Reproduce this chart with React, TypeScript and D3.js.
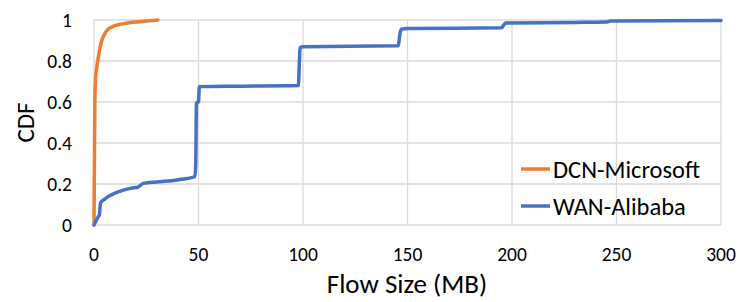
import React from "react";
import * as d3 from "d3";

const dcnX = [0, 0.2, 0.4, 0.7, 1.2, 1.8, 2.6, 3.7, 5.0, 6.7, 8.5, 10, 13, 16, 20, 25, 30.6];
const dcnY = [0, 0.3, 0.6, 0.7, 0.76, 0.8, 0.85, 0.9, 0.93, 0.955, 0.965, 0.972, 0.98, 0.985, 0.99, 0.995, 1.0];

const wanX = [0, 1.0, 2.0, 2.6, 3.0, 3.3, 5, 7, 10, 14, 18, 21, 23.6, 30, 40, 48.3, 48.7, 49.0, 49.6, 50.0, 50.4, 70, 97.8, 98.2, 98.6, 100, 145.5, 146.5, 147, 150, 195, 196, 197, 230, 245, 247, 300];
const wanY = [0, 0.02, 0.04, 0.05, 0.1, 0.11, 0.125, 0.14, 0.155, 0.17, 0.18, 0.185, 0.203, 0.21, 0.22, 0.236, 0.3, 0.59, 0.6, 0.6, 0.675, 0.677, 0.68, 0.78, 0.865, 0.87, 0.874, 0.94, 0.955, 0.958, 0.962, 0.975, 0.985, 0.988, 0.99, 0.995, 0.997];

const xTicks = [0, 50, 100, 150, 200, 250, 300];
const yTicks = [0, 0.2, 0.4, 0.6, 0.8, 1];
const seriesNames = ["DCN-Microsoft", "WAN-Alibaba"];
const seriesColors = ["#ED7D31", "#4472C4"];

const W = 747, H = 302;
const FONT = "Carlito, Lato, 'Open Sans', sans-serif";

export default function App() {
  const x = d3.scaleLinear().domain([0, 300]).range([94, 721]);
  const y = d3.scaleLinear().domain([0, 1]).range([225, 20]);
  const line = d3.line<[number, number]>().x(d => x(d[0])).y(d => y(d[1])).curve(d3.curveMonotoneX);
  const dcn = dcnX.map((v, i) => [v, dcnY[i]] as [number, number]);
  const wan = wanX.map((v, i) => [v, wanY[i]] as [number, number]);
  const data = [dcn, wan];
  return (
    <svg width={W} height={H} style={{ position: "absolute", left: 0, top: 0, background: "#fff" }} fontFamily={FONT}>
      {yTicks.map(t => (
        <line key={"gy" + t} x1={x(0)} x2={x(300)} y1={y(t)} y2={y(t)} stroke="#d9d9d9" strokeWidth={1.3} />
      ))}
      {xTicks.map(t => (
        <line key={"gx" + t} x1={x(t)} x2={x(t)} y1={y(0)} y2={y(1)} stroke="#d9d9d9" strokeWidth={1.3} />
      ))}
      {yTicks.map(t => (
        <text key={"ty" + t} x={72} y={y(t)} dy="0.35em" textAnchor="end" fontSize={19.5} fill="#000">{String(t)}</text>
      ))}
      {xTicks.map(t => (
        <text key={"tx" + t} x={x(t)} y={261} textAnchor="middle" fontSize={19.5} fill="#000">{String(t)}</text>
      ))}
      <text x={407} y={293} textAnchor="middle" fontSize={27} fill="#000">Flow Size (MB)</text>
      <text transform={`translate(34,${y(0.5)}) rotate(-90)`} textAnchor="middle" fontSize={25} fill="#000">CDF</text>
      {data.map((d, i) => (
        <path key={"s" + i} d={line(d) || ""} fill="none" stroke={seriesColors[i]} strokeWidth={3.5} strokeLinejoin="round" strokeLinecap="round" />
      ))}
      {seriesNames.map((n, i) => (
        <g key={"lg" + i}>
          <line x1={521} x2={550} y1={169 + i * 37} y2={169 + i * 37} stroke={seriesColors[i]} strokeWidth={3.5} />
          <text x={553} y={169 + i * 37} dy="0.35em" fontSize={24.5} fill="#000">{n}</text>
        </g>
      ))}
    </svg>
  );
}
